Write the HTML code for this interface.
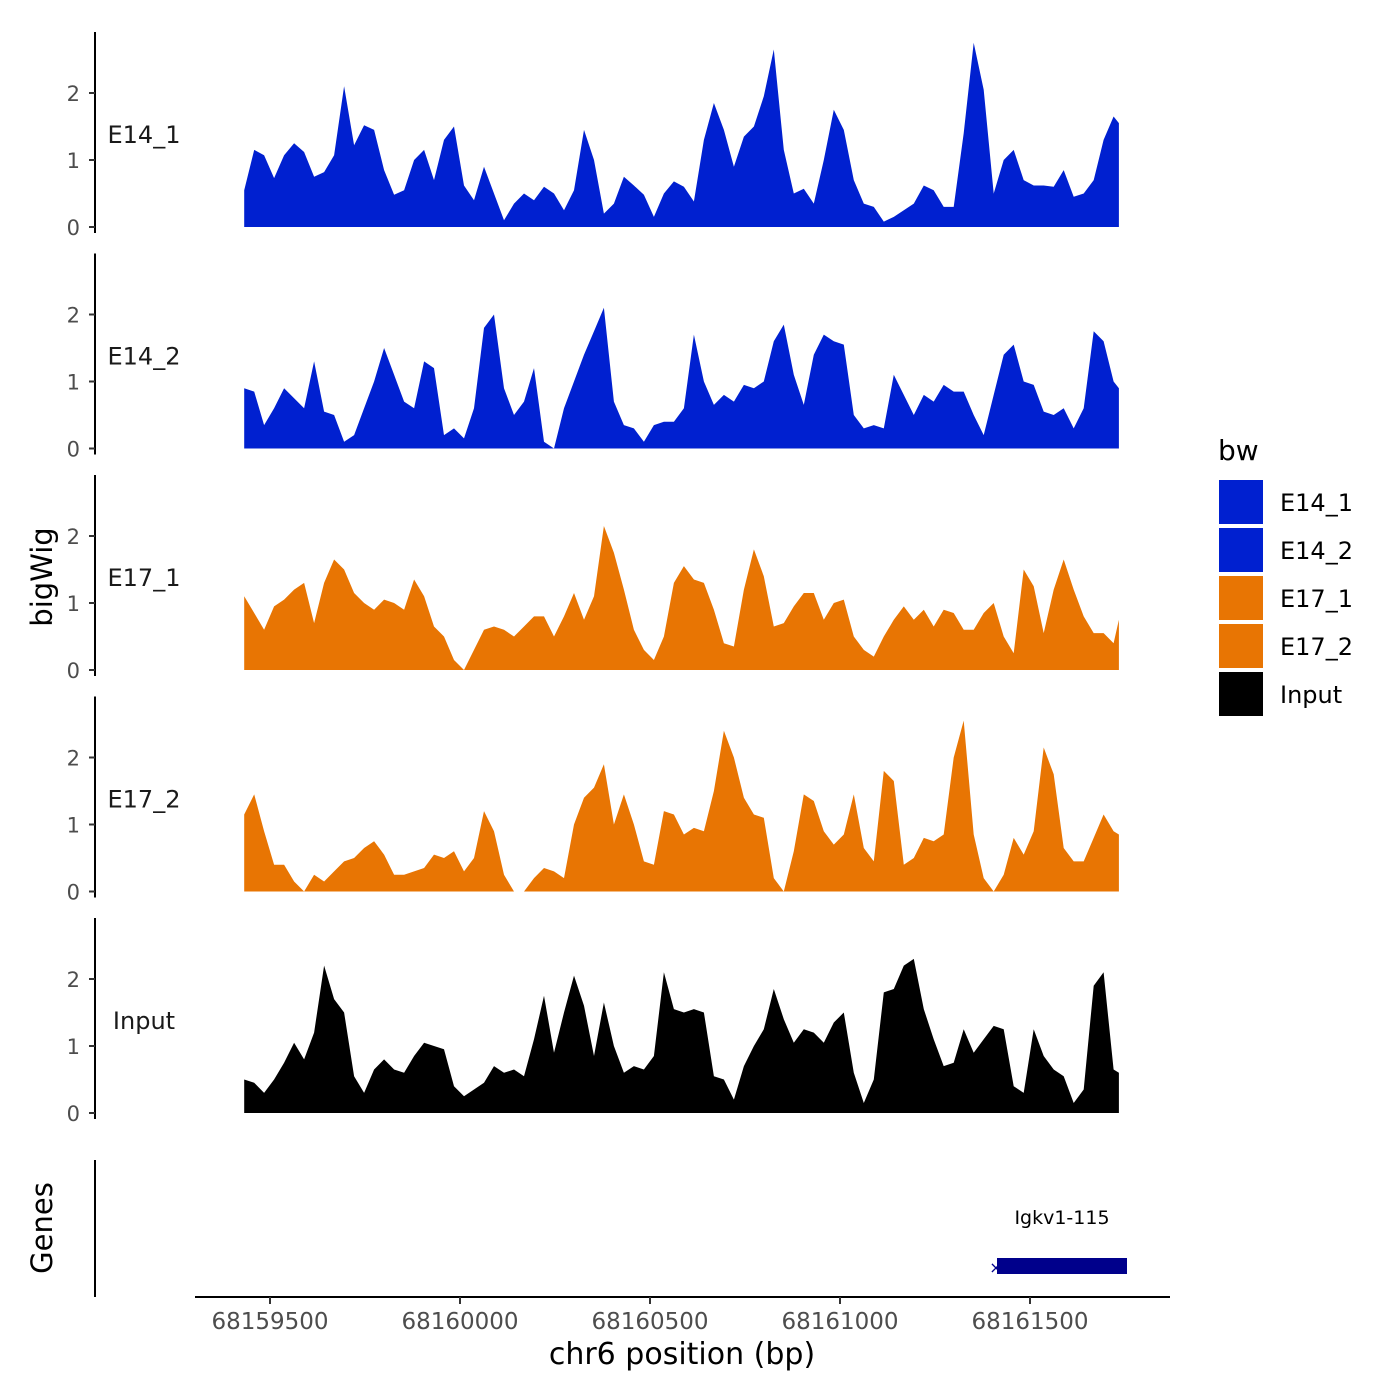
<!DOCTYPE html>
<html><head><meta charset="utf-8">
<style>
html,body{margin:0;padding:0;background:#fff;}
svg{display:block;font-family:"DejaVu Sans","Liberation Sans",sans-serif;}
</style></head>
<body>
<svg id="chart" width="1400" height="1400" viewBox="0 0 1400 1400" xmlns="http://www.w3.org/2000/svg">
<rect width="1400" height="1400" fill="#fff"/>
<text x="0" y="0" transform="translate(52,577) rotate(-90)" text-anchor="middle" font-size="29" fill="#000">bigWig</text>
<text x="0" y="0" transform="translate(52,1228) rotate(-90)" text-anchor="middle" font-size="29" fill="#000">Genes</text>
<text x="682" y="1364" text-anchor="middle" font-size="30" fill="#000">chr6 position (bp)</text>
<line x1="95" y1="1160" x2="95" y2="1297" stroke="#000" stroke-width="2"/>
<text x="1062" y="1224" text-anchor="middle" font-size="19" fill="#000">Igkv1-115</text>
<rect x="997" y="1258" width="130" height="16" fill="#00008B"/>
<text x="996" y="1273" text-anchor="middle" font-size="16" fill="#00008B">×</text>
<text x="1218" y="460" font-size="28" fill="#000">bw</text>
<g id="panels"></g>
<g id="xaxis"></g>
<g id="legend"></g>
</svg>
<script>
const trackNames = ["E14_1","E14_2","E17_1","E17_2","Input"];
const trackColors = ["#0020D0","#0020D0","#E87503","#E87503","#000000"];
const startBp = 68159432;
const endBp = 68161734;
const xTicks = [68159500,68160000,68160500,68161000,68161500];
const yTicks = [0,1,2];

const e14_1 = [0.55,1.15,1.07,0.73,1.07,1.25,1.12,0.75,0.82,1.07,2.1,1.22,1.52,1.45,0.85,0.48,0.55,1.0,1.15,0.7,1.3,1.5,0.62,0.4,0.9,0.5,0.1,0.35,0.5,0.4,0.6,0.5,0.25,0.55,1.45,1.0,0.2,0.35,0.75,0.62,0.48,0.15,0.5,0.68,0.6,0.38,1.3,1.85,1.45,0.9,1.35,1.5,1.95,2.65,1.15,0.5,0.57,0.35,1.0,1.75,1.45,0.7,0.35,0.3,0.08,0.15,0.25,0.35,0.62,0.55,0.3,0.3,1.4,2.75,2.05,0.5,1.0,1.15,0.7,0.62,0.62,0.6,0.85,0.45,0.5,0.7,1.3,1.65,1.55];
const e14_2 = [0.9,0.85,0.35,0.6,0.9,0.75,0.6,1.3,0.55,0.5,0.1,0.2,0.6,1.0,1.5,1.1,0.7,0.6,1.3,1.2,0.2,0.3,0.15,0.6,1.8,2.0,0.9,0.5,0.7,1.2,0.1,0.0,0.6,1.0,1.4,1.75,2.1,0.7,0.35,0.3,0.1,0.35,0.4,0.4,0.6,1.7,1.0,0.65,0.8,0.7,0.95,0.9,1.0,1.6,1.85,1.1,0.65,1.4,1.7,1.6,1.55,0.5,0.3,0.35,0.3,1.1,0.8,0.5,0.8,0.7,0.95,0.85,0.85,0.5,0.2,0.8,1.4,1.55,1.0,0.95,0.55,0.5,0.6,0.3,0.6,1.75,1.6,1.0,0.9];
const e17_1 = [1.1,0.85,0.6,0.95,1.05,1.2,1.3,0.7,1.3,1.65,1.5,1.15,1.0,0.9,1.05,1.0,0.9,1.35,1.1,0.65,0.5,0.15,0.0,0.3,0.6,0.65,0.6,0.5,0.65,0.8,0.8,0.5,0.8,1.15,0.75,1.1,2.15,1.75,1.2,0.6,0.3,0.15,0.5,1.3,1.55,1.35,1.3,0.9,0.4,0.35,1.2,1.8,1.4,0.65,0.7,0.95,1.15,1.15,0.75,1.0,1.05,0.5,0.3,0.2,0.5,0.75,0.95,0.75,0.9,0.65,0.9,0.85,0.6,0.6,0.85,1.0,0.5,0.25,1.5,1.25,0.55,1.2,1.65,1.2,0.8,0.55,0.55,0.4,0.75];
const e17_2 = [1.15,1.45,0.9,0.4,0.4,0.15,0.0,0.25,0.15,0.3,0.45,0.5,0.65,0.75,0.55,0.25,0.25,0.3,0.35,0.55,0.5,0.6,0.3,0.5,1.2,0.9,0.25,0.0,0.0,0.2,0.35,0.3,0.2,1.0,1.4,1.55,1.9,1.0,1.45,1.0,0.45,0.4,1.2,1.15,0.85,0.95,0.9,1.5,2.4,2.0,1.4,1.15,1.1,0.2,0.0,0.6,1.45,1.35,0.9,0.7,0.85,1.45,0.65,0.45,1.8,1.65,0.4,0.5,0.8,0.75,0.85,2.0,2.55,0.85,0.2,0.0,0.25,0.8,0.55,0.9,2.15,1.75,0.65,0.45,0.45,0.8,1.15,0.9,0.85];
const input = [0.5,0.45,0.3,0.5,0.75,1.05,0.8,1.2,2.2,1.7,1.5,0.55,0.3,0.65,0.8,0.65,0.6,0.85,1.05,1.0,0.95,0.4,0.25,0.35,0.45,0.7,0.6,0.65,0.55,1.1,1.75,0.9,1.5,2.05,1.6,0.85,1.65,1.0,0.6,0.7,0.65,0.85,2.1,1.55,1.5,1.55,1.5,0.55,0.5,0.2,0.7,1.0,1.25,1.85,1.4,1.05,1.25,1.2,1.05,1.35,1.5,0.6,0.15,0.5,1.8,1.85,2.2,2.3,1.55,1.1,0.7,0.75,1.25,0.9,1.1,1.3,1.25,0.4,0.3,1.25,0.85,0.65,0.55,0.15,0.35,1.9,2.1,0.65,0.6];
const seriesValues = [e14_1,e14_2,e17_1,e17_2,input];

const NS = "http://www.w3.org/2000/svg";
function mk(tag, attrs, parent){const e=document.createElementNS(NS,tag);for(const k in attrs)e.setAttribute(k,attrs[k]);parent.appendChild(e);return e;}
function xScale(bp){return 270 + (bp - 68159500) * 0.38;}
function posAt(i, n){return i === n-1 ? endBp : startBp + i * 26.3;}

const panels = document.getElementById('panels');
trackNames.forEach((name, p) => {
  const zeroY = 227 + p * 221.5;
  const yScale = v => zeroY - v * 67;
  const g = mk('g', {}, panels);
  
  
  const vals = seriesValues[p];
  let d = 'M' + xScale(posAt(0, vals.length)).toFixed(1) + ',' + zeroY;
  vals.forEach((v, i) => { d += 'L' + xScale(posAt(i, vals.length)).toFixed(1) + ',' + yScale(v).toFixed(1); });
  d += 'L' + xScale(posAt(vals.length-1, vals.length)).toFixed(1) + ',' + zeroY + 'Z';
  const area = mk('path', {d: d, fill: trackColors[p]}, g);
  
  
  const axis = mk('line', {x1: 95, y1: 32 + p*221.5, x2: 95, y2: 233 + p*221.5, stroke: '#000', 'stroke-width': 2}, g);
  
  
  yTicks.forEach(t => {
    const tk = mk('line', {x1: 89, y1: yScale(t), x2: 95, y2: yScale(t), stroke: '#333', 'stroke-width': 2}, g);
    
    
    const tl = mk('text', {x: 80, y: yScale(t) + 8, 'text-anchor': 'end', 'font-size': 21, fill: '#4d4d4d'}, g);
    
    
    tl.textContent = t;
  });
  const lab = mk('text', {x: 144, y: 143 + p*221.5, 'text-anchor': 'middle', 'font-size': 24, fill: '#1a1a1a'}, g);
  
  
  lab.textContent = name;
});

const xa = document.getElementById('xaxis');
const xl = mk('line', {x1: 195, y1: 1297, x2: 1170, y2: 1297, stroke: '#000', 'stroke-width': 2}, xa);


xTicks.forEach(t => {
  const tk = mk('line', {x1: xScale(t), y1: 1297, x2: xScale(t), y2: 1304, stroke: '#333', 'stroke-width': 2}, xa);
  
  
  const tl = mk('text', {x: xScale(t), y: 1329, 'text-anchor': 'middle', 'font-size': 23, fill: '#4d4d4d'}, xa);
  
  
  tl.textContent = t;
});

const lg = document.getElementById('legend');
trackNames.forEach((name, i) => {
  const y = 480 + i * 48;
  const r = mk('rect', {x: 1219, y: y, width: 44, height: 44, fill: trackColors[i]}, lg);
  
  
  const t = mk('text', {x: 1280, y: y + 31, 'font-size': 24, fill: '#000'}, lg);
  
  
  t.textContent = name;
});
</script>
</body></html>
